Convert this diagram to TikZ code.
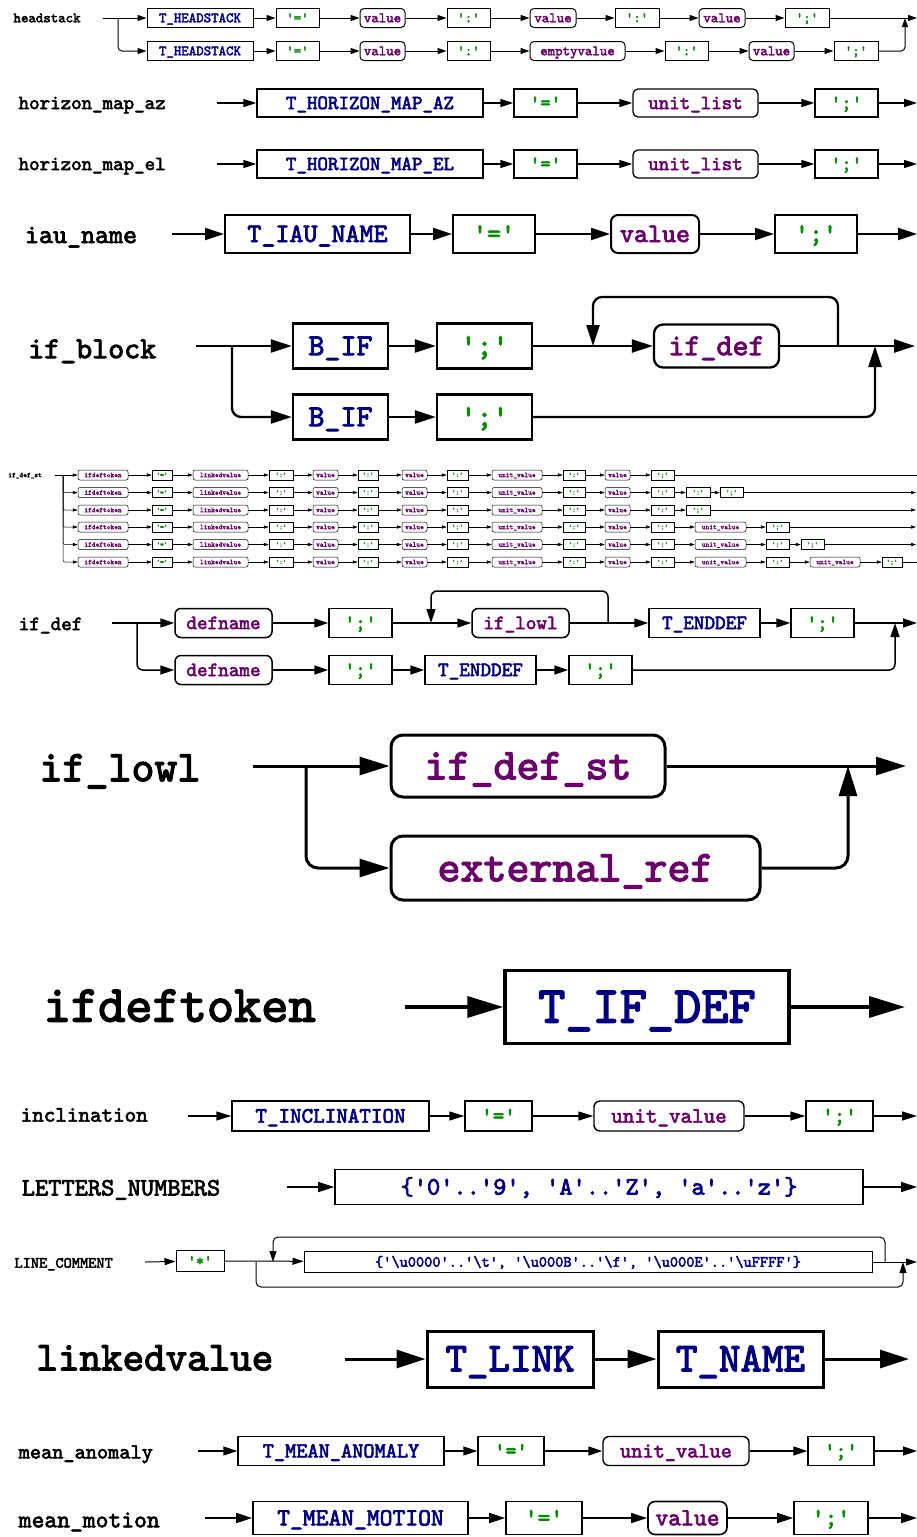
\documentclass[tikz,border=0pt]{standalone}
\usepackage{fontspec}
\setmonofont{lmmono10-regular.otf}[FakeBold=2.8]
\usetikzlibrary{arrows.meta}
\definecolor{tcol}{HTML}{000080}
\definecolor{ncol}{HTML}{6A006A}
\definecolor{lcol}{HTML}{008A00}
\newcommand\q{\textquotesingle}
% box node given by left edge, right edge, centre y and height
\newcommand\bx[7]{\node[#1, minimum width={(#4-#3)*1pt}, minimum height={#6*1pt}] (#2) at ({(#3+#4)/2},#5) {#7};}
\newcommand\chain[1]{\foreach \ca/\cb in {#1} {\draw[arr] (\ca) -- (\cb);}}
\tikzset{
  dgm/.style n args={6}{line width=#1pt,
    every node/.append style={font=\fontsize{#2}{#2}\selectfont\ttfamily, text height=#6pt, text depth=0pt},
    arr/.style={-{Triangle[length=#3pt,width=#4pt]}},
    rnd/.style={rounded corners=#5pt},
    nt/.style={draw, inner sep=0pt, text=ncol, rounded corners=#5pt}},
  tm/.style={draw, inner sep=0pt, text=tcol},
  lit/.style={draw, inner sep=0pt, text=lcol},
  lbl/.style={anchor=west, inner sep=0pt, text=black},
}
\begin{document}
\begin{tikzpicture}[x=1pt,y=-1pt]
\useasboundingbox (0,0) rectangle (917,1537);
\fill[white] (0,0) rectangle (917,1537);

% ---------------- headstack
\begin{scope}[dgm={1}{14.2}{9}{6}{4}{8.5}]
\node[lbl] (hsL) at (13,18) {headstack};
\coordinate (hsIn) at (103,18); \coordinate (hsSp) at (118,18);
\bx{tm}{hsA1}{147}{253}{18}{19}{T\_HEADSTACK}
\bx{lit}{hsB1}{276}{319}{18}{19}{\q=\q}
\bx{nt}{hsC1}{360}{405}{18}{19}{value}
\bx{lit}{hsD1}{447}{490}{18}{19}{\q:\q}
\bx{nt}{hsE1}{530}{576}{18}{19}{value}
\bx{lit}{hsF1}{615}{659}{18}{19}{\q:\q}
\bx{nt}{hsG1}{699}{745}{18}{19}{value}
\bx{lit}{hsH1}{785}{829}{18}{19}{\q;\q}
\bx{tm}{hsA2}{147}{253}{51}{19}{T\_HEADSTACK}
\bx{lit}{hsB2}{276}{319}{51}{19}{\q=\q}
\bx{nt}{hsC2}{360}{405}{51}{19}{value}
\bx{lit}{hsD2}{447}{490}{51}{19}{\q:\q}
\bx{nt}{hsE2}{530}{625}{51}{19}{emptyvalue}
\bx{lit}{hsF2}{665}{708}{51}{19}{\q:\q}
\bx{nt}{hsG2}{749}{794}{51}{19}{value}
\bx{lit}{hsH2}{834}{878}{51}{19}{\q;\q}
\coordinate (hsM) at (905,18); \coordinate (hsOut) at (917,18);
\draw (hsIn) -- (hsSp);
\draw[arr] (hsSp) -- (hsA1);
\draw[arr,rnd] (hsSp) |- (hsA2);
\chain{hsA1/hsB1,hsB1/hsC1,hsC1/hsD1,hsD1/hsE1,hsE1/hsF1,hsF1/hsG1,hsG1/hsH1,
       hsA2/hsB2,hsB2/hsC2,hsC2/hsD2,hsD2/hsE2,hsE2/hsF2,hsF2/hsG2,hsG2/hsH2}
\draw (hsH1) -- (hsM);
\draw[arr,rnd] (hsH2) -| (hsM);
\draw[arr] (hsM) -- (hsOut);
\end{scope}

% ---------------- horizon_map_az / horizon_map_el
\begin{scope}[dgm={1.3}{20}{13}{8}{5}{12}]
\node[lbl] (hzL) at (18,103) {horizon\_map\_az};
\coordinate (hzIn) at (217,103); \coordinate (hzOut) at (917,103);
\bx{tm}{hzA}{257}{483}{103}{28}{T\_HORIZON\_MAP\_AZ}
\bx{lit}{hzB}{514}{577}{103}{28}{\q=\q}
\bx{nt}{hzC}{633}{758}{103}{28}{unit\_list}
\bx{lit}{hzD}{815}{878}{103}{28}{\q;\q}
\chain{hzIn/hzA,hzA/hzB,hzB/hzC,hzC/hzD,hzD/hzOut}
\node[lbl] (heL) at (18,164) {horizon\_map\_el};
\coordinate (heIn) at (217,164); \coordinate (heOut) at (917,164);
\bx{tm}{heA}{257}{483}{164}{28}{T\_HORIZON\_MAP\_EL}
\bx{lit}{heB}{514}{577}{164}{28}{\q=\q}
\bx{nt}{heC}{633}{758}{164}{28}{unit\_list}
\bx{lit}{heD}{815}{878}{164}{28}{\q;\q}
\chain{heIn/heA,heA/heB,heB/heC,heC/heD,heD/heOut}
\end{scope}

% ---------------- iau_name
\begin{scope}[dgm={2}{26.7}{19}{12}{7}{16}]
\node[lbl] (iaL) at (24,235) {iau\_name};
\coordinate (iaIn) at (172,234); \coordinate (iaOut) at (917,234);
\bx{tm}{iaA}{225}{410}{234}{38}{T\_IAU\_NAME}
\bx{lit}{iaB}{453}{535}{234}{38}{\q=\q}
\bx{nt}{iaC}{611}{699}{234}{38}{value}
\bx{lit}{iaD}{775}{857}{234}{38}{\q;\q}
\chain{iaIn/iaA,iaA/iaB,iaB/iaC,iaC/iaD,iaD/iaOut}
\end{scope}

% ---------------- if_block
\begin{scope}[dgm={2.3}{30.5}{21}{13}{9}{18.3}]
\node[lbl] (ibL) at (27,349) {if\_block};
\coordinate (ibIn) at (196,346); \coordinate (ibSp) at (232,346);
\bx{tm}{ibA1}{293}{388}{346}{45}{B\_IF}
\bx{lit}{ibB1}{437}{532}{346}{45}{\q;\q}
\bx{nt}{ibC1}{654}{779}{346}{43}{if\_def}
\bx{tm}{ibA2}{293}{388}{417}{45}{B\_IF}
\bx{lit}{ibB2}{437}{532}{417}{45}{\q;\q}
\coordinate (ibR) at (838,346); \coordinate (ibTop) at (715,297); \coordinate (ibLp) at (593,346);
\coordinate (ibM) at (875,346); \coordinate (ibOut) at (915,346);
\draw (ibIn) -- (ibSp);
\draw[arr] (ibSp) -- (ibA1);
\draw[arr,rnd] (ibSp) |- (ibA2);
\chain{ibA1/ibB1,ibB1/ibC1,ibC1/ibOut,ibA2/ibB2}
\draw[arr,rnd] (ibR) |- (ibTop) -| (ibLp);
\draw[arr,rnd] (ibB2) -| (ibM);
\end{scope}

% ---------------- if_def_st
\begin{scope}[dgm={0.5}{7.1}{5}{3.2}{2}{4.3}]
\node[lbl] (stL) at (8,475) {if\_def\_st};
\coordinate (stIn) at (55,475); \coordinate (stSp) at (63,475);
\foreach \rw/\yy in {1/475,2/492.5,3/510,4/527,5/544.5,6/562}{
  \bx{nt}{st\rw a}{78}{128}{\yy}{10}{ifdeftoken}
  \bx{lit}{st\rw b}{152}{172}{\yy}{10}{\q=\q}
  \bx{nt}{st\rw c}{193}{248}{\yy}{10}{linkedvalue}
  \bx{lit}{st\rw d}{269}{293}{\yy}{10}{\q:\q}
  \bx{nt}{st\rw e}{313}{338}{\yy}{10}{value}
  \bx{lit}{st\rw f}{358}{378}{\yy}{10}{\q:\q}
  \bx{nt}{st\rw g}{402}{427}{\yy}{10}{value}
  \bx{lit}{st\rw h}{447}{468}{\yy}{10}{\q:\q}
  \bx{nt}{st\rw i}{492}{542}{\yy}{10}{unit\_value}
  \bx{lit}{st\rw j}{563}{585}{\yy}{10}{\q:\q}
  \bx{nt}{st\rw k}{605}{630}{\yy}{10}{value}
  \coordinate (st\rw z) at (916,\yy);
  \foreach \ca/\cb in {a/b,b/c,c/d,d/e,e/f,f/g,g/h,h/i,i/j,j/k}
    {\draw[arr] (st\rw\ca) -- (st\rw\cb);}
}
\draw (stIn) -- (stSp);
\draw[arr] (stSp) -- (st1a);
\foreach \rw in {2,...,6}{\draw[arr,rnd] (stSp) |- (st\rw a);}
% row 1
\bx{lit}{st1l}{651}{674}{475}{10}{\q;\q}
\coordinate (st1w) at (917,475);
\draw[arr] (st1k) -- (st1l); \draw (st1l) -- (st1w);
% row 2
\bx{lit}{st2l}{651}{674}{492.5}{10}{\q:\q}
\bx{lit}{st2m}{686}{710}{492.5}{10}{\q:\q}
\bx{lit}{st2n}{720}{743}{492.5}{10}{\q;\q}
\chain{st2k/st2l,st2l/st2m,st2m/st2n,st2n/st2z}
% row 3
\bx{lit}{st3l}{651}{674}{510}{10}{\q:\q}
\bx{lit}{st3m}{686}{710}{510}{10}{\q;\q}
\chain{st3k/st3l,st3l/st3m,st3m/st3z}
% row 4
\bx{lit}{st4l}{651}{674}{527}{10}{\q:\q}
\bx{nt}{st4m}{695}{746}{527}{10}{unit\_value}
\bx{lit}{st4n}{766}{789}{527}{10}{\q;\q}
\chain{st4k/st4l,st4l/st4m,st4m/st4n,st4n/st4z}
% row 5
\bx{lit}{st5l}{651}{674}{544.5}{10}{\q:\q}
\bx{nt}{st5m}{695}{746}{544.5}{10}{unit\_value}
\bx{lit}{st5n}{766}{789}{544.5}{10}{\q:\q}
\bx{lit}{st5o}{801}{824}{544.5}{10}{\q;\q}
\chain{st5k/st5l,st5l/st5m,st5m/st5n,st5n/st5o,st5o/st5z}
% row 6
\bx{lit}{st6l}{651}{674}{562}{10}{\q:\q}
\bx{nt}{st6m}{695}{746}{562}{10}{unit\_value}
\bx{lit}{st6n}{766}{789}{562}{10}{\q:\q}
\bx{nt}{st6o}{810}{860}{562}{10}{unit\_value}
\bx{lit}{st6p}{882}{902}{562}{10}{\q;\q}
\coordinate (st6w) at (917,562);
\chain{st6k/st6l,st6l/st6m,st6m/st6n,st6n/st6o,st6o/st6p}
\draw (st6p) -- (st6w);
\end{scope}

% ---------------- if_def
\begin{scope}[dgm={1.5}{20.2}{14}{9}{6}{12.1}]
\node[lbl] (idL) at (18,624) {if\_def};
\coordinate (idIn) at (112,623); \coordinate (idSp) at (137,623);
\bx{nt}{idA1}{175}{272}{623}{29}{defname}
\bx{lit}{idB1}{329}{392}{623}{29}{\q;\q}
\bx{nt}{idC1}{472}{569}{623}{29}{if\_lowl}
\bx{tm}{idD1}{649}{760}{623}{29}{T\_ENDDEF}
\bx{lit}{idE1}{791}{854}{623}{29}{\q;\q}
\bx{nt}{idA2}{175}{272}{670}{29}{defname}
\bx{lit}{idB2}{329}{392}{670}{29}{\q;\q}
\bx{tm}{idC2}{425}{536}{670}{29}{T\_ENDDEF}
\bx{lit}{idD2}{569}{632}{670}{29}{\q;\q}
\coordinate (idR) at (608,623); \coordinate (idTop) at (520,591); \coordinate (idLp) at (431,623);
\coordinate (idM) at (895,623); \coordinate (idOut) at (917,623);
\draw (idIn) -- (idSp);
\draw[arr] (idSp) -- (idA1);
\draw[arr,rnd] (idSp) |- (idA2);
\chain{idA1/idB1,idB1/idC1,idC1/idD1,idD1/idE1,idE1/idOut,idA2/idB2,idB2/idC2,idC2/idD2}
\draw[arr,rnd] (idR) |- (idTop) -| (idLp);
\draw[arr,rnd] (idD2) -| (idM);
\end{scope}

% ---------------- if_lowl
\begin{scope}[dgm={3}{43.8}{30}{18}{12}{26.3}]
\node[lbl] (ilL) at (38,768) {if\_lowl};
\coordinate (ilIn) at (253,766); \coordinate (ilSp) at (306,766);
\bx{nt}{ilA}{391}{665}{766}{62}{if\_def\_st}
\bx{nt}{ilB}{391}{760}{868}{64}{external\_ref}
\coordinate (ilM) at (848,766); \coordinate (ilOut) at (906,766);
\draw (ilIn) -- (ilSp);
\draw[arr] (ilSp) -- (ilA);
\draw[arr,rnd] (ilSp) |- (ilB);
\draw[arr] (ilA) -- (ilOut);
\draw[arr,rnd] (ilB) -| (ilM);
\end{scope}

% ---------------- ifdeftoken
\begin{scope}[dgm={3.5}{51.8}{36}{21}{12}{31.1}]
\node[lbl] (itL) at (42,1006) {ifdeftoken};
\coordinate (itIn) at (405,1007); \coordinate (itOut) at (905,1007);
\bx{tm}{itA}{505}{789}{1007}{73}{T\_IF\_DEF}
\chain{itIn/itA,itA/itOut}
\end{scope}

% ---------------- inclination
\begin{scope}[dgm={1.4}{22}{15}{9}{6}{13.2}]
\node[lbl] (inL) at (20,1115) {inclination};
\coordinate (inIn) at (188,1116); \coordinate (inOut) at (917,1116);
\bx{tm}{inA}{232}{429}{1116}{30}{T\_INCLINATION}
\bx{lit}{inB}{465}{532}{1116}{30}{\q=\q}
\bx{nt}{inC}{594}{744}{1116}{30}{unit\_value}
\bx{lit}{inD}{806}{873}{1116}{30}{\q;\q}
\chain{inIn/inA,inA/inB,inB/inC,inC/inD,inD/inOut}
\end{scope}

% ---------------- LETTERS_NUMBERS
\begin{scope}[dgm={1.6}{25.2}{16}{10}{6}{15.1}]
\node[lbl] (lnL) at (21,1188) {LETTERS\_NUMBERS};
\coordinate (lnIn) at (287,1187); \coordinate (lnOut) at (917,1187);
\bx{tm}{lnA}{335}{863}{1187}{35}{\{\q0\q..\q9\q, \q A\q..\q Z\q, \q a\q..\q z\q\}}
\chain{lnIn/lnA,lnA/lnOut}
\end{scope}

% ---------------- LINE_COMMENT
\begin{scope}[dgm={1}{15.6}{11}{7}{5}{9.4}]
\node[lbl] (lcL) at (14,1263) {LINE\_COMMENT};
\coordinate (lcIn) at (145,1262);
\bx{lit}{lcA}{176}{224}{1261}{21}{\q*\q}
\bx{tm}{lcB}{304}{872}{1262}{21}{\{\q\textbackslash u0000\q..\q\textbackslash t\q, \q\textbackslash u000B\q..\q\textbackslash f\q, \q\textbackslash u000E\q..\q\textbackslash uFFFF\q\}}
\coordinate (lcSp) at (256,1262); \coordinate (lcBot) at (580,1287); \coordinate (lcM) at (903,1262);
\coordinate (lcR) at (885,1262); \coordinate (lcTop) at (580,1237); \coordinate (lcLp) at (273,1262);
\coordinate (lcOut) at (917,1262);
\chain{lcIn/lcA,lcA/lcB,lcB/lcOut}
\draw[arr,rnd] (lcR) |- (lcTop) -| (lcLp);
\draw[arr,rnd] (lcSp) |- (lcBot) -| (lcM);
\end{scope}

% ---------------- linkedvalue
\begin{scope}[dgm={3}{41}{29}{18}{12}{24.6}]
\node[lbl] (lvL) at (35,1358) {linkedvalue};
\coordinate (lvIn) at (345,1359); \coordinate (lvOut) at (909,1359);
\bx{tm}{lvA}{427}{593}{1359}{56}{T\_LINK}
\bx{tm}{lvB}{658}{823}{1359}{56}{T\_NAME}
\chain{lvIn/lvA,lvA/lvB,lvB/lvOut}
\end{scope}

% ---------------- mean_anomaly
\begin{scope}[dgm={1.4}{21.3}{14}{9}{6}{12.8}]
\node[lbl] (maL) at (18,1452) {mean\_anomaly};
\coordinate (maIn) at (198,1451); \coordinate (maOut) at (917,1451);
\bx{tm}{maA}{238}{444}{1451}{29}{T\_MEAN\_ANOMALY}
\bx{lit}{maB}{478}{544}{1451}{29}{\q=\q}
\bx{nt}{maC}{603}{749}{1451}{29}{unit\_value}
\bx{lit}{maD}{808}{874}{1451}{29}{\q;\q}
\chain{maIn/maA,maA/maB,maB/maC,maC/maD,maD/maOut}
\end{scope}

% ---------------- mean_motion
\begin{scope}[dgm={1.6}{24.4}{16}{10}{7}{14.6}]
\node[lbl] (mmL) at (18,1520) {mean\_motion};
\coordinate (mmIn) at (205,1518); \coordinate (mmOut) at (917,1518);
\bx{tm}{mmA}{253}{468}{1518}{33}{T\_MEAN\_MOTION}
\bx{lit}{mmB}{506}{582}{1518}{33}{\q=\q}
\bx{nt}{mmC}{648}{727}{1518}{33}{value}
\bx{lit}{mmD}{794}{868}{1518}{33}{\q;\q}
\chain{mmIn/mmA,mmA/mmB,mmB/mmC,mmC/mmD,mmD/mmOut}
\end{scope}
\end{tikzpicture}
\end{document}
